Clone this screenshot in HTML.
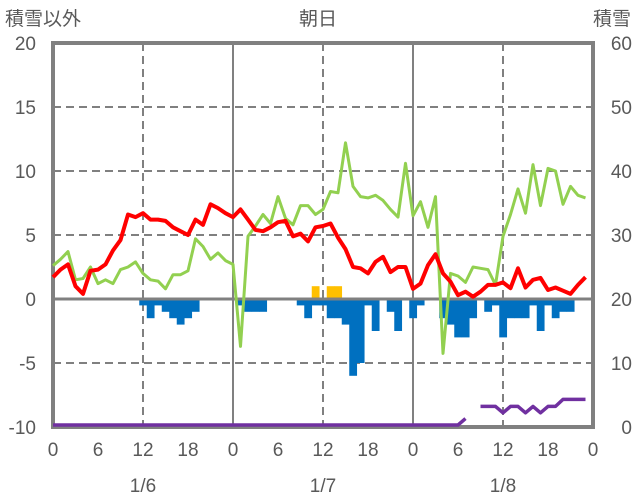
<!DOCTYPE html>
<html><head><meta charset="utf-8">
<style>
html,body{margin:0;padding:0;background:#fff;}
svg{display:block;font-family:"Liberation Sans","Noto Sans CJK JP",sans-serif;}
</style></head>
<body>
<svg id="chart" width="636" height="501" viewBox="0 0 636 501" xmlns="http://www.w3.org/2000/svg">
<text x="5" y="25" font-size="19" fill="#595959">積雪以外</text>
<text x="318" y="25" font-size="19" fill="#595959" text-anchor="middle">朝日</text>
<text x="631" y="25" font-size="19" fill="#595959" text-anchor="end">積雪</text>
<g id="grid"></g>
<g id="bars"></g>
<g id="axes"></g>
<g id="lines"></g>
</svg>
<script>
const leftTicks=[20,15,10,5,0,-5,-10];
const rightTicks=[60,50,40,30,20,10,0];
const hourLabels=["0","6","12","18","0","6","12","18","0","6","12","18","0"];
const dateLabels=["1/6","1/7","1/8"];
const redSeries=[1.7,2.3,2.7,1.0,0.4,2.2,2.3,2.7,3.8,4.6,6.6,6.4,6.7,6.2,6.2,6.1,5.6,5.3,5.0,6.2,5.8,7.4,7.1,6.7,6.4,7.0,6.2,5.4,5.3,5.6,6.0,6.1,4.9,5.1,4.5,5.6,5.7,5.9,4.8,3.9,2.5,2.4,2.0,2.9,3.3,2.1,2.5,2.5,0.8,1.2,2.65,3.5,2.0,1.35,0.3,0.57,0.18,0.57,1.1,1.1,1.3,0.84,2.4,0.9,1.5,1.65,0.7,0.9,0.65,0.4,1.1,1.7];
const greenSeries=[2.6,3.1,3.7,1.5,1.6,2.5,1.2,1.5,1.2,2.3,2.5,2.9,2.0,1.5,1.4,0.8,1.9,1.9,2.2,4.7,4.1,3.1,3.6,3.0,2.7,-3.7,4.9,5.7,6.6,5.9,8.0,6.3,5.8,7.3,7.3,6.6,7.0,8.4,8.3,12.2,8.8,8.0,7.9,8.1,7.7,7.0,6.4,10.6,6.5,7.6,5.6,8.0,-4.25,2.0,1.8,1.3,2.5,2.4,2.3,1.1,4.9,6.6,8.6,6.7,10.5,7.3,10.2,10.0,7.4,8.8,8.1,7.9];
const blueBars=[0,0,0,0,0,0,0,0,0,0,0,0,-0.5,-1.5,-0.5,-1.0,-1.5,-2.0,-1.5,-1.0,0,0,0,0,0,-0.5,-1.0,-1.0,-1.0,0,0,0,0,-0.5,-1.5,-0.5,-0.5,-1.5,-1.5,-2.0,-6.0,-5.0,-0.5,-2.5,0,-1.0,-2.5,0,-1.5,-0.5,0,0,-1.5,-2.0,-3.0,-3.0,-1.5,0,-1.0,-0.5,-3.0,-1.5,-1.5,-1.5,-0.5,-2.5,-0.5,-1.5,-1.0,-1.0,0,0];
const yellowBars=[0,0,0,0,0,0,0,0,0,0,0,0,0,0,0,0,0,0,0,0,0,0,0,0,0,0,0,0,0,0,0,0,0,0,0,1.0,0,1.0,1.0,0,0,0,0,0,0,0,0,0,0,0,0,0,0,0,0,0,0,0,0,0,0,0,0,0,0,0,0,0,0,0,0,0];
const purpleSeries=[0,0,0,0,0,0,0,0,0,0,0,0,0,0,0,0,0,0,0,0,0,0,0,0,0,0,0,0,0,0,0,0,0,0,0,0,0,0,0,0,0,0,0,0,0,0,0,0,0,0,0,0,0,0,0,1.0,null,2.9,2.9,2.9,1.9,2.9,2.9,1.9,2.9,1.9,2.9,2.9,4,4,4,4];

const X0=53,X1=593,Y0=43,Y1=427;
const xS=h=>X0+h*(X1-X0)/72;
const yL=v=>Y0+(20-v)*(Y1-Y0)/30;
const yR=v=>Y1-2-v*(Y1-Y0)/60;
const NS="http://www.w3.org/2000/svg";
function mk(tag,attrs,parent){const e=document.createElementNS(NS,tag);for(const k in attrs)e.setAttribute(k,attrs[k]);parent.appendChild(e);return e;}
const grid=document.getElementById('grid'),bars=document.getElementById('bars'),lines=document.getElementById('lines'),axes=document.getElementById('axes');

leftTicks.forEach(v=>{
  if(v<20&&v>-10&&v!==0){const l=mk('line',{x1:X0,x2:X1,y1:yL(v),y2:yL(v),stroke:'#808080','stroke-width':2,'stroke-dasharray':'8,5'},grid);
  
  }
  const t=mk('text',{x:36,y:yL(v)+7,'font-size':19,fill:'#595959','text-anchor':'end'},axes);t.textContent=v;
  
  
});
rightTicks.forEach(v=>{
  const t=mk('text',{x:632,y:Y1-v*(Y1-Y0)/60+7,'font-size':19,fill:'#595959','text-anchor':'end'},axes);t.textContent=v;
  
  
});
hourLabels.forEach((s,i)=>{
  const h=i*6,x=xS(h);
  if(h>0&&h<72&&h%12===0){
    const solid=h%24===0;
    const l=mk('line',{x1:x,x2:x,y1:Y0,y2:Y1,stroke:'#808080','stroke-width':2,'stroke-dasharray':solid?'none':'8,5'},grid);
    
    
  }
  const t=mk('text',{x:x,y:456,'font-size':19,fill:'#595959','text-anchor':'middle'},axes);t.textContent=s;
  
  
});
dateLabels.forEach((s,i)=>{
  const t=mk('text',{x:xS(12+24*i),y:492,'font-size':19,fill:'#595959','text-anchor':'middle'},axes);t.textContent=s;
  
  
});
const bw=(X1-X0)/72;
blueBars.forEach((v,i)=>{if(!v)return;
  const r=mk('rect',{x:xS(i)-bw/2,y:yL(0),width:bw+0.3,height:yL(v)-yL(0),fill:'#0070C0'},bars);
  
  
});
yellowBars.forEach((v,i)=>{if(!v)return;
  const r=mk('rect',{x:xS(i)-bw/2,y:yL(v),width:bw+0.3,height:yL(0)-yL(v),fill:'#FFC000'},bars);
  
  
});
const zl=mk('line',{x1:X0,x2:X1,y1:yL(0),y2:yL(0),stroke:'#808080','stroke-width':3},axes);


const fr=mk('rect',{x:X0,y:Y0,width:X1-X0,height:Y1-Y0,fill:'none',stroke:'#808080','stroke-width':4},axes);


function path(arr,ys){let d='',pen=false;arr.forEach((v,i)=>{if(v===null){pen=false;return;}d+=(pen?'L':'M')+xS(i).toFixed(1)+','+ys(v).toFixed(1);pen=true;});return d;}
const g=mk('path',{d:path(greenSeries,yL),fill:'none',stroke:'#92D050','stroke-width':3,'stroke-linejoin':'round'},lines);


const r=mk('path',{d:path(redSeries,yL),fill:'none',stroke:'#FF0000','stroke-width':4,'stroke-linejoin':'round'},lines);


const p=mk('path',{d:path(purpleSeries,yR),fill:'none',stroke:'#7030A0','stroke-width':3.5,'stroke-linejoin':'round'},lines);


</script>
</body></html>
